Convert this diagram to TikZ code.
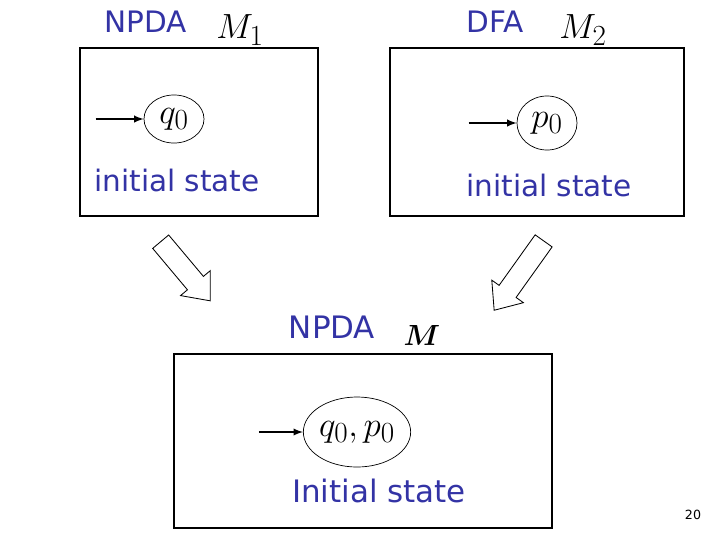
\documentclass[tikz,border=0pt]{standalone}
\usepackage{fontspec}
\setmainfont{DejaVu Sans}
\usepackage{bm}
\usetikzlibrary{positioning,shapes.geometric,shapes.arrows}
\definecolor{slideblue}{RGB}{51,51,165}
\tikzset{
  machine/.style={rectangle,draw,line width=0.8pt},
  state/.style={ellipse,draw,line width=0.5pt,inner sep=0pt},
  caption/.style={text=slideblue,font=\fontsize{21}{25}\selectfont},
  mathlbl/.style={font=\fontsize{28}{32}\selectfont},
  bigarrow/.style={single arrow,draw,line width=0.6pt,minimum width=0.95cm,inner sep=0.25cm,
    single arrow head extend=0.225cm,single arrow tip angle=80}
}
\begin{document}
\begin{tikzpicture}[
                            x=0.025cm, y=-0.025cm,
                            >=latex
                        ]
                        \useasboundingbox (0,0) rectangle (720,540);
                        % Machines
                        \node [machine,minimum width=5.95cm,minimum height=4.2cm] (box1) at (199,132) {};
                        \node [machine,minimum width=7.35cm,minimum height=4.2cm] (box2) at (537,132) {};
                        \node [machine,minimum width=9.45cm,minimum height=4.35cm] (box3) at (363,441) {};

                        % Titles
                        \node [caption] (t1) at (146,22) {NPDA};
                        \node [mathlbl] (m1) at (240,30) {$M_1$};
                        \node [caption] (t2) at (495,22) {DFA};
                        \node [mathlbl] (m2) at (583,30) {$M_2$};
                        \node [caption,font=\fontsize{22}{26}\selectfont] (t3) at (332,327) {NPDA};
                        \node [mathlbl,font=\fontsize{22}{26}\selectfont] (m3) at (422,335) {$\bm{M}$};

                        % States
                        \node [state,mathlbl,minimum width=1.5cm,minimum height=1.2cm] (q0) at (174,119) {$q_0$};
                        \node [state,mathlbl,minimum width=1.5cm,minimum height=1.35cm] (p0) at (547,123) {$p_0$};
                        \node [state,mathlbl,minimum width=2.15cm,minimum height=1.75cm] (qp) at (357,432) {$q_0,p_0$};
                        \coordinate [left=1.2cm of q0.west] (in1);
                        \coordinate [left=1.2cm of p0.west] (in2);
                        \coordinate [left=1.1cm of qp.west] (in3);

                        % Labels
                        \node [caption] (l1) at (177,180) {initial state};
                        \node [caption] (l2) at (549,185) {initial state};
                        \node [caption,font=\fontsize{22}{26}\selectfont] (l3) at (379,491) {Initial state};

                        % Connections
                        \draw [->,line width=1.3pt] (in1) -- (q0);
                        \draw [->,line width=1.3pt] (in2) -- (p0);
                        \draw [->,line width=1.3pt] (in3) -- (qp);
                        \node [bigarrow,minimum height=1.93cm,rotate=-50] (a1) at (181.5,266.5) {};
                        \node [bigarrow,minimum height=2.13cm,rotate=-125.5] (a2) at (522.5,270.5) {};

                        \node [font=\fontsize{9}{10}\selectfont] (pg) at (693,515) {20};
                    \end{tikzpicture}
\end{document}
